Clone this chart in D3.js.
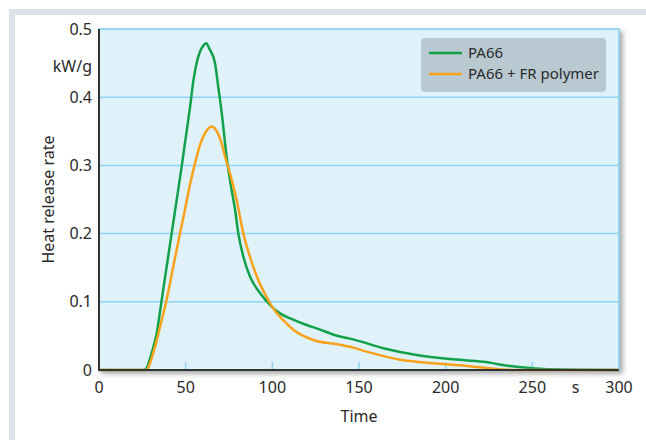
<!DOCTYPE html>
<html>
<head>
<meta charset="utf-8">
<script src="https://cdn.jsdelivr.net/npm/d3@7"></script>
<style>
  body { margin: 0; background: #fff; }
  svg text { font-family: "Noto Sans", "Open Sans", sans-serif; fill: #2a2a2a; }
</style>
</head>
<body>
<div class="canvas"></div>
<script>
const WIDTH = 646,
  HEIGHT = 440,
  PLOT = { left: 99, top: 29, right: 619, bottom: 370 };

// time (s) / heat release rate (kW/g)
const pa66Time = [0, 26, 27.5, 30.4, 33.3, 36.2, 39, 41.9, 44.8, 47.5, 50, 52.5, 54.5,
  56.5, 58.3, 60.3, 62, 63.5, 66.9, 68.8, 70.8, 73.6, 76.5, 78.5, 80.4, 83.3, 87.1, 92.9,
  99.6, 104.4, 112, 119.8, 125.6, 139, 144.8, 164, 183.3, 202.5, 221.8, 237, 250.5, 260, 300];
const pa66Rate = [0, 0, 0.003, 0.025, 0.054, 0.103, 0.151, 0.2, 0.249, 0.295, 0.34, 0.385,
  0.425, 0.452, 0.467, 0.476, 0.479, 0.472, 0.45, 0.415, 0.377, 0.313, 0.264, 0.235, 0.2,
  0.166, 0.137, 0.113, 0.093, 0.083, 0.074, 0.066, 0.061, 0.049, 0.046, 0.032, 0.022,
  0.016, 0.012, 0.006, 0.0025, 0.001, 0];

const frTime = [0, 27.5, 29.4, 32.3, 35.2, 39, 42.8, 46.7, 49.6, 52.5, 55.4, 58, 60.5,
  63, 65, 67.5, 70.8, 72.7, 75.6, 79.4, 83.3, 87.1, 91.9, 96.7, 100.6, 106.3, 112.1,
  123.6, 139, 144.8, 154.4, 173.7, 192.9, 212, 231.4, 240, 300];
const frRate = [0, 0, 0.01, 0.034, 0.063, 0.103, 0.151, 0.2, 0.235, 0.272, 0.303, 0.328,
  0.344, 0.354, 0.357, 0.352, 0.332, 0.313, 0.288, 0.249, 0.2, 0.166, 0.132, 0.107, 0.09,
  0.073, 0.059, 0.044, 0.037, 0.034, 0.027, 0.015, 0.01, 0.006, 0.001, 0, 0];

const yTicks = [0, 0.1, 0.2, 0.3, 0.4, 0.5];
const xTicks = [0, 50, 100, 150, 200, 250, 300];
const seriesNames = ["PA66", "PA66 + FR polymer"];
const seriesColors = ["#11a14a", "#f8a21c"];

let svg, x, y;

document.addEventListener("DOMContentLoaded", function () {
  setSVG();
  setScales();
  drawFrame();
  drawGrid();
  drawLines();
  drawAxes();
  drawLegend();
});

function setSVG() {
  svg = d3.select(".canvas").append("svg")
    .attr("width", WIDTH)
    .attr("height", HEIGHT);

  const filter = svg.append("defs").append("filter")
    .attr("id", "shadow")
    .attr("x", "-5%").attr("y", "-5%")
    .attr("width", "115%").attr("height", "115%");
  filter.append("feDropShadow")
    .attr("dx", 3).attr("dy", 3)
    .attr("stdDeviation", 2.5)
    .attr("flood-color", "#000")
    .attr("flood-opacity", 0.35);
}

function setScales() {
  x = d3.scaleLinear().domain([0, 300]).range([PLOT.left, PLOT.right]);
  y = d3.scaleLinear().domain([0, 0.5]).range([PLOT.bottom, PLOT.top]);
}

function drawFrame() {
  // grey L-shaped border of the figure
  svg.append("rect").attr("x", 9).attr("y", 9)
    .attr("width", WIDTH - 9).attr("height", 6).attr("fill", "#dbe3e9");
  svg.append("rect").attr("x", 9).attr("y", 9)
    .attr("width", 6).attr("height", HEIGHT - 9).attr("fill", "#dbe3e9");

  svg.append("rect")
    .attr("x", PLOT.left).attr("y", PLOT.top)
    .attr("width", PLOT.right - PLOT.left)
    .attr("height", PLOT.bottom - PLOT.top)
    .attr("fill", "#e0f2f9")
    .attr("stroke", "#7fcdf0")
    .attr("stroke-width", 1.5)
    .attr("filter", "url(#shadow)");
}

function drawGrid() {
  svg.append("g").selectAll("line")
    .data(yTicks.filter((d) => d > 0 && d < 0.5))
    .enter().append("line")
    .attr("x1", PLOT.left).attr("x2", PLOT.right)
    .attr("y1", (d) => y(d)).attr("y2", (d) => y(d))
    .attr("stroke", "#8ed3f2")
    .attr("stroke-width", 1.5);

  svg.append("g").selectAll("line")
    .data(xTicks.filter((d) => d > 0 && d < 300))
    .enter().append("line")
    .attr("x1", (d) => x(d)).attr("x2", (d) => x(d))
    .attr("y1", PLOT.bottom).attr("y2", PLOT.bottom - 8)
    .attr("stroke", "#8ed3f2")
    .attr("stroke-width", 1.5);
}

function drawLines() {
  const line = d3.line()
    .x((d) => x(d[0]))
    .y((d) => y(d[1]))
    .curve(d3.curveMonotoneX);

  const series = [
    d3.zip(pa66Time, pa66Rate),
    d3.zip(frTime, frRate),
  ];

  svg.append("g").selectAll("path")
    .data(series)
    .enter().append("path")
    .attr("d", line)
    .attr("fill", "none")
    .attr("stroke", (d, i) => seriesColors[i])
    .attr("stroke-width", 2.5)
    .attr("stroke-linejoin", "round");
}

function drawAxes() {
  svg.append("line")
    .attr("x1", PLOT.left).attr("x2", PLOT.left)
    .attr("y1", PLOT.top).attr("y2", PLOT.bottom + 1)
    .attr("stroke", "#333").attr("stroke-width", 2);
  svg.append("line")
    .attr("x1", PLOT.left - 1).attr("x2", PLOT.right)
    .attr("y1", PLOT.bottom).attr("y2", PLOT.bottom)
    .attr("stroke", "#333").attr("stroke-width", 2);

  svg.append("g").selectAll("text")
    .data(yTicks)
    .enter().append("text")
    .attr("x", PLOT.left - 7)
    .attr("y", (d) => y(d))
    .attr("dy", "0.35em")
    .attr("text-anchor", "end")
    .attr("font-size", 16)
    .text((d) => (d === 0 ? "0" : d3.format(".1f")(d)));

  svg.append("text")
    .attr("x", PLOT.left - 7).attr("y", 66)
    .attr("dy", "0.35em")
    .attr("text-anchor", "end")
    .attr("font-size", 16)
    .text("kW/g");

  svg.append("g").selectAll("text")
    .data(xTicks)
    .enter().append("text")
    .attr("x", (d) => x(d))
    .attr("y", 393)
    .attr("text-anchor", "middle")
    .attr("font-size", 16)
    .text((d) => d);

  svg.append("text")
    .attr("x", x(275)).attr("y", 393)
    .attr("text-anchor", "middle")
    .attr("font-size", 16)
    .text("s");

  svg.append("text")
    .attr("x", (PLOT.left + PLOT.right) / 2).attr("y", 422)
    .attr("text-anchor", "middle")
    .attr("font-size", 16)
    .text("Time");

  svg.append("text")
    .attr("transform", `translate(54, ${(PLOT.top + PLOT.bottom) / 2}) rotate(-90)`)
    .attr("text-anchor", "middle")
    .attr("font-size", 16)
    .text("Heat release rate");
}

function drawLegend() {
  const legend = svg.append("g").attr("transform", "translate(421, 38)");

  legend.append("rect")
    .attr("width", 185).attr("height", 54)
    .attr("rx", 4)
    .attr("fill", "#b9c9d1");

  const item = legend.selectAll("g")
    .data(seriesNames)
    .enter().append("g")
    .attr("transform", (d, i) => `translate(0, ${15 + i * 21})`);

  item.append("line")
    .attr("x1", 8).attr("x2", 41)
    .attr("stroke", (d, i) => seriesColors[i])
    .attr("stroke-width", 2.5);

  item.append("text")
    .attr("x", 47)
    .attr("dy", "0.35em")
    .attr("font-size", 15)
    .text((d) => d);
}
</script>
</body>
</html>
